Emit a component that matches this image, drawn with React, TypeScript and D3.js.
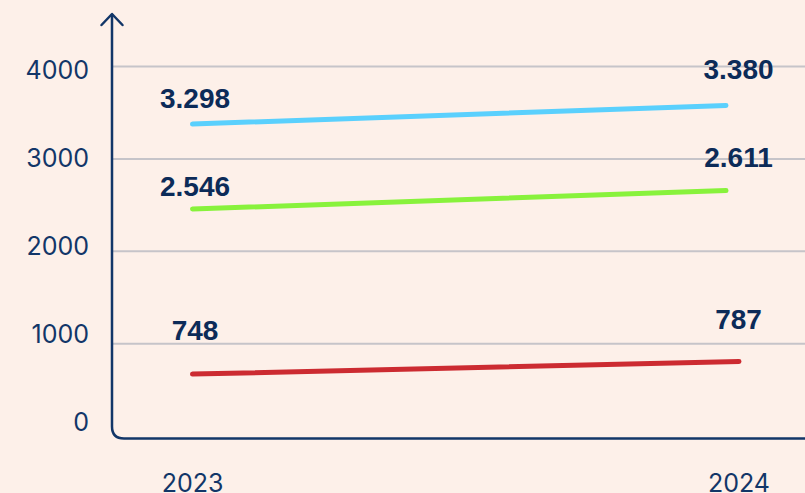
import React, { useEffect, useRef } from 'react';
import * as d3 from 'd3';

// chart values
const years = [2023, 2024];
const yTicks = [0, 1000, 2000, 3000, 4000];
const seriesNames = ['blue', 'green', 'red'];
const blueValues = [3377, 3583];
const greenValues = [2457, 2662];
const redValues = [670, 807];
const blueLabels = ['3.298', '3.380'];
const greenLabels = ['2.546', '2.611'];
const redLabels = ['748', '787'];
// where the designer put each value label, in data units
const blueLabelAt = [3551, 3865];
const greenLabelAt = [2597, 2915];
const redLabelAt = [1038, 1157];

const W = 805;
const H = 493;

const App = () => {
  const svgRef = useRef<SVGSVGElement>(null);

  useEffect(() => {
    const svg = d3.select(svgRef.current);
    svg.selectAll('*').remove();

    const navy = '#123668';
    const axisX = 112;
    const axisBottom = 438.5;

    const x = d3.scaleLinear().domain([2023, 2024]).range([192.5, 739]);
    const y = d3.scaleLinear().domain([0, 4000]).range([436, 66.5]);
    // the tick labels sit on a slightly tighter spacing than the grid
    const yLabel = d3.scaleLinear().domain([0, 4000]).range([421.5, 70]);

    svg.append('rect').attr('width', W).attr('height', H).attr('fill', '#fdf0e9');

    // gridlines
    svg
      .append('g')
      .selectAll('line')
      .data(yTicks.filter(d => d > 0))
      .enter()
      .append('line')
      .attr('x1', axisX)
      .attr('x2', W)
      .attr('y1', d => y(d))
      .attr('y2', d => y(d))
      .attr('stroke', '#c6c4c9')
      .attr('stroke-width', 2);

    // y tick labels
    svg
      .append('g')
      .selectAll('text')
      .data(yTicks)
      .enter()
      .append('text')
      .attr('x', 89)
      .attr('y', d => yLabel(d))
      .attr('dy', '0.36em')
      .attr('text-anchor', 'end')
      .attr('font-family', 'Inter, "Noto Sans", sans-serif')
      .attr('font-size', 25)
      .attr('fill', navy)
      .text(d => d);

    // x labels (cut by the bottom edge, as in the original)
    svg
      .append('g')
      .selectAll('text')
      .data(years)
      .enter()
      .append('text')
      .attr('x', d => x(d))
      .attr('y', 492)
      .attr('text-anchor', 'middle')
      .attr('font-family', 'Inter, "Noto Sans", sans-serif')
      .attr('font-size', 25)
      .attr('fill', navy)
      .text(d => d);

    // axis frame with rounded corner and arrow
    const r = 12;
    const frame = d3.path();
    frame.moveTo(axisX, 14);
    frame.lineTo(axisX, axisBottom - r);
    frame.quadraticCurveTo(axisX, axisBottom, axisX + r, axisBottom);
    frame.lineTo(W, axisBottom);
    svg
      .append('path')
      .attr('d', frame.toString())
      .attr('fill', 'none')
      .attr('stroke', navy)
      .attr('stroke-width', 2.5);

    svg
      .append('path')
      .attr('d', `M${axisX - 10.5},25 L${axisX},14 L${axisX + 10.5},25`)
      .attr('fill', 'none')
      .attr('stroke', navy)
      .attr('stroke-width', 2.5)
      .attr('stroke-linecap', 'round')
      .attr('stroke-linejoin', 'round');

    const series = [
      { name: seriesNames[0], values: blueValues, labels: blueLabels, labelAt: blueLabelAt, color: '#5ad0fd', trimEnd: 13 },
      { name: seriesNames[1], values: greenValues, labels: greenLabels, labelAt: greenLabelAt, color: '#88f23c', trimEnd: 13 },
      { name: seriesNames[2], values: redValues, labels: redLabels, labelAt: redLabelAt, color: '#cc2b31', trimEnd: 0 },
    ];

    series.forEach(s => {
      const pts = years.map((yr, i) => [x(yr), y(s.values[i])] as [number, number]);
      // the blue and green strokes stop a little short of the 2024 column
      const [p0, p1] = pts;
      const t = 1 - s.trimEnd / (p1[0] - p0[0]);
      const end: [number, number] = [p0[0] + (p1[0] - p0[0]) * t, p0[1] + (p1[1] - p0[1]) * t];

      svg
        .append('path')
        .attr('d', d3.line()([p0, end]))
        .attr('fill', 'none')
        .attr('stroke', s.color)
        .attr('stroke-width', 5)
        .attr('stroke-linecap', 'round');

      svg
        .append('g')
        .selectAll('text')
        .data(years)
        .enter()
        .append('text')
        .attr('x', (d, i) => x(d) + (i === 0 ? 2.5 : -0.5))
        .attr('y', (d, i) => y(s.labelAt[i]))
        .attr('text-anchor', 'middle')
        .attr('font-family', '"Liberation Sans", Arial, sans-serif')
        .attr('font-weight', 'bold')
        .attr('font-size', 28)
        .attr('fill', '#0c2b58')
        .text((d, i) => s.labels[i]);
    });
  }, []);

  return (
    <div style={{ position: 'absolute', left: 0, top: 0 }}>
      <svg ref={svgRef} width={W} height={H} style={{ display: 'block' }}></svg>
    </div>
  );
};

export default App;
